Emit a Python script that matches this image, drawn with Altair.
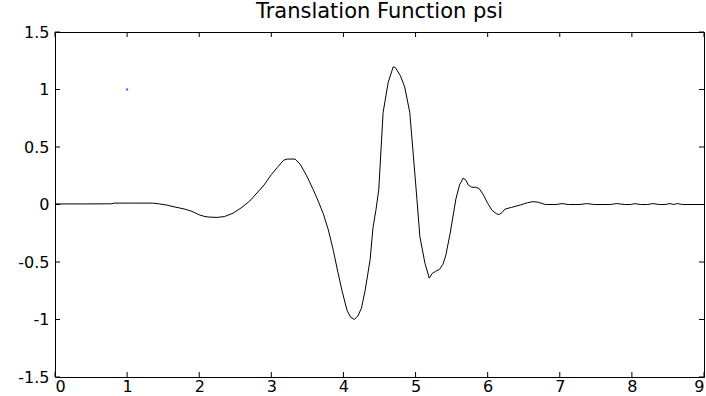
import altair as alt
import pandas as pd

# Wavelet curve samples (x, psi)
xs = [0.00, 0.40, 0.78, 0.82, 1.10, 1.35, 1.45, 1.55, 1.65, 1.80, 1.90, 2.00, 2.08, 2.15,
      2.25, 2.35, 2.47, 2.58, 2.70, 2.80, 2.90, 3.00, 3.08, 3.17, 3.22, 3.33, 3.40, 3.49,
      3.58, 3.65, 3.72, 3.79, 3.86, 3.92, 3.98, 4.05, 4.10, 4.15, 4.20, 4.25, 4.30, 4.37,
      4.41, 4.45, 4.49, 4.55, 4.62, 4.69, 4.72, 4.79, 4.85, 4.92, 4.97, 5.02, 5.06, 5.13,
      5.19, 5.23, 5.28, 5.33, 5.38, 5.42, 5.48, 5.52, 5.56, 5.61, 5.66, 5.70, 5.73, 5.78,
      5.83, 5.88, 5.94, 6.00, 6.06, 6.12, 6.16, 6.20, 6.24, 6.33, 6.45, 6.55, 6.63, 6.70,
      6.80, 6.95, 7.03, 7.12, 7.28, 7.37, 7.48, 7.70, 7.79, 7.90, 7.98, 8.04, 8.12, 8.22,
      8.29, 8.38, 8.46, 8.53, 8.58, 8.63, 8.70, 9.00]
ys = [0.005, 0.005, 0.006, 0.012, 0.012, 0.012, 0.005, -0.005, -0.02, -0.04, -0.06, -0.09, -0.105, -0.11,
      -0.112, -0.105, -0.075, -0.03, 0.03, 0.10, 0.17, 0.26, 0.32, 0.385, 0.395, 0.395, 0.35, 0.25,
      0.13, 0.03, -0.08, -0.22, -0.40, -0.58, -0.75, -0.92, -0.98, -1.00, -0.97, -0.90, -0.75, -0.48,
      -0.20, -0.05, 0.13, 0.80, 1.06, 1.197, 1.19, 1.12, 1.02, 0.80, 0.42, 0.04, -0.28, -0.51,
      -0.64, -0.60, -0.58, -0.565, -0.52, -0.44, -0.25, -0.10, 0.05, 0.17, 0.23, 0.21, 0.17, 0.15,
      0.15, 0.14, 0.085, 0.01, -0.05, -0.08, -0.087, -0.07, -0.04, -0.025, -0.005, 0.015, 0.025, 0.02,
      0.0, 0.0, 0.008, 0.0, 0.0, 0.008, 0.0, 0.0, 0.008, 0.0, 0.0, 0.007, 0.0, 0.0,
      0.008, 0.0, 0.0, 0.008, 0.0, 0.008, 0.0, 0.0]

# Single marker point
pt_x = [1]
pt_y = [1]

x_ticks = [0, 1, 2, 3, 4, 5, 6, 7, 8, 9]
y_ticks = [-1.5, -1, -0.5, 0, 0.5, 1, 1.5]

W, H = 649, 345
TICK = 5
FONT = "DejaVu Sans"

curve = pd.DataFrame({"x": xs, "y": ys})
point = pd.DataFrame({"x": pt_x, "y": pt_y})
xt = pd.DataFrame({"v": x_ticks})
yt = pd.DataFrame({"v": y_ticks})

xscale = alt.Scale(domain=[0, 9], nice=False, zero=False)
yscale = alt.Scale(domain=[-1.5, 1.5], nice=False, zero=False)

xaxis = alt.Axis(values=x_ticks, title=None, grid=False, domain=False, ticks=False,
                 labelFont=FONT, labelFontSize=16, labelColor="black", labelPadding=1,
                 labelExpr="datum.value + ''")
yaxis = alt.Axis(values=y_ticks, title=None, grid=False, domain=False, ticks=False,
                 labelFont=FONT, labelFontSize=16, labelColor="black", labelPadding=6,
                 labelExpr="datum.value + ''")

line = alt.Chart(curve).mark_line(color="black", strokeWidth=1).encode(
    x=alt.X("x:Q", scale=xscale, axis=xaxis),
    y=alt.Y("y:Q", scale=yscale, axis=yaxis),
)

dot = alt.Chart(point).mark_point(color="blue", filled=True, size=4, shape="square").encode(
    x=alt.X("x:Q", scale=xscale),
    y=alt.Y("y:Q", scale=yscale),
)

tick_style = dict(color="black", strokeWidth=1)
bottom_ticks = alt.Chart(xt).mark_rule(**tick_style).encode(
    x=alt.X("v:Q", scale=xscale), y=alt.value(H), y2=alt.value(H - TICK))
top_ticks = alt.Chart(xt).mark_rule(**tick_style).encode(
    x=alt.X("v:Q", scale=xscale), y=alt.value(0), y2=alt.value(TICK))
left_ticks = alt.Chart(yt).mark_rule(**tick_style).encode(
    y=alt.Y("v:Q", scale=yscale), x=alt.value(0), x2=alt.value(TICK))
right_ticks = alt.Chart(yt).mark_rule(**tick_style).encode(
    y=alt.Y("v:Q", scale=yscale), x=alt.value(W), x2=alt.value(W - TICK))

chart = alt.layer(line, dot, bottom_ticks, top_ticks, left_ticks, right_ticks).properties(
    width=W, height=H,
    background="white",
    title=alt.TitleParams("Translation Function psi", font=FONT, fontSize=21,
                          fontWeight="normal", color="black", offset=2),
    autosize=alt.AutoSizeParams(type="none"),
    padding={"left": 55, "top": 32, "right": 2, "bottom": 19},
).configure_view(stroke="black", strokeWidth=1)

chart.save("out.html", embed_options={"renderer": "svg", "actions": False})
